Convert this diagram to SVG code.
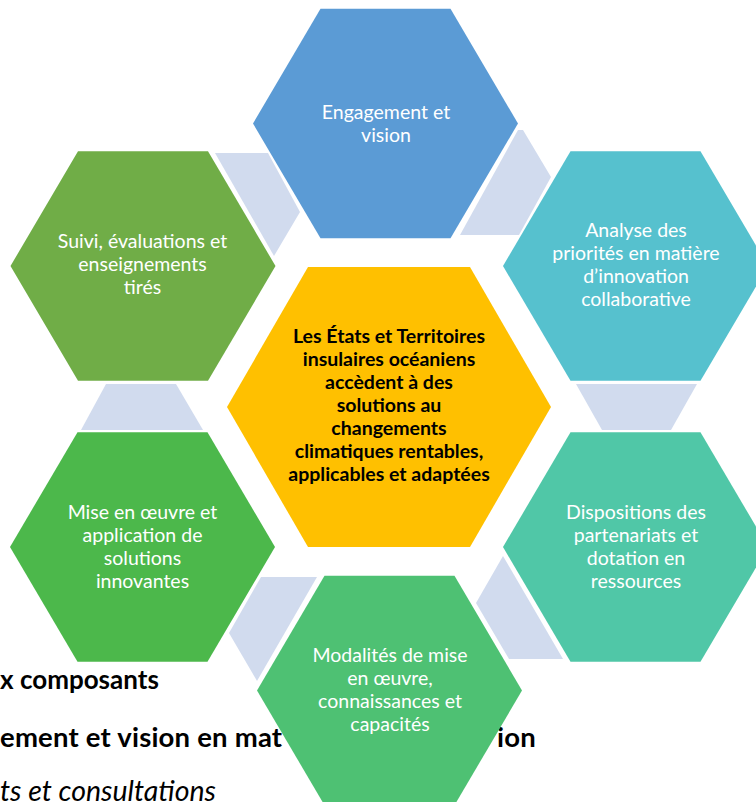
<svg xmlns="http://www.w3.org/2000/svg" width="756" height="802" viewBox="0 0 756 802">
  <style>
    .bg { font-family: Lato, "Liberation Sans", sans-serif; font-weight: bold; font-size: 26px; fill: #000; }
    .bg2 { font-family: Lato, "Liberation Sans", sans-serif; font-weight: bold; font-size: 27.5px; letter-spacing: 0.2px; fill: #000; }
    .bgi { font-family: Lato, "Liberation Sans", sans-serif; font-style: italic; font-size: 28.5px; fill: #000; }
    .conn { fill: #D1DBEE; stroke: none; }
    .lbl { font-family: Lato, "Open Sans", sans-serif; font-size: 19.5px; fill: #FFFFFF; text-anchor: middle; }
    .ctr { font-family: Lato, "Open Sans", sans-serif; font-size: 19.5px; font-weight: bold; fill: #000000; text-anchor: middle; }
  </style>
  <rect width="756" height="802" fill="#FFFFFF"/>

  <!-- document text behind the figure -->
  <g id="background-text">
    <text class="bg" x="0" y="689">x composants</text>
    <text class="bg2" x="0" y="747">ement et vision en mat</text>
    <text class="bg2" x="497" y="747">ion</text>
    <text class="bgi" x="0" y="801">ts et consultations</text>
  </g>

  <g id="connectors">
    <polygon class="conn" points="215,153 268,153 300,212 274,256"/>
    <polygon class="conn" points="518,130 523,130 551,177 519,235 460,235"/>
    <polygon class="conn" points="576,384 697,384 671,430 602,430"/>
    <polygon class="conn" points="503,556 563,659 509,659 476,603"/>
    <polygon class="conn" points="261,577 317,577 257,681 229,633"/>
    <polygon class="conn" points="106,384 176,384 203,430 81,430"/>
  </g>

  <g id="node-engagement">
    <polygon fill="#5B9BD5" points="253,123.5 320.5,8.75 450.5,8.75 518,123.5 450.5,238.25 320.5,238.25"/>
    <text class="lbl" x="386" y="119">Engagement et</text>
    <text class="lbl" x="386" y="142">vision</text>
  </g>

  <g id="node-analyse">
    <polygon fill="#56C1CE" points="503,266 570.5,151.25 700.5,151.25 768,266 700.5,380.75 570.5,380.75"/>
    <text class="lbl" x="636" y="237">Analyse des</text>
    <text class="lbl" x="636" y="260">priorités en matière</text>
    <text class="lbl" x="636" y="283">d’innovation</text>
    <text class="lbl" x="636" y="306">collaborative</text>
  </g>

  <g id="node-dispositions">
    <polygon fill="#50C7A7" points="503,547 570.5,432.25 700.5,432.25 768,547 700.5,661.75 570.5,661.75"/>
    <text class="lbl" x="636" y="519">Dispositions des</text>
    <text class="lbl" x="636" y="542">partenariats et</text>
    <text class="lbl" x="636" y="565">dotation en</text>
    <text class="lbl" x="636" y="588">ressources</text>
  </g>

  <g id="node-modalites">
    <polygon fill="#4EC173" points="257,690.5 324.5,575.75 454.5,575.75 522,690.5 454.5,805.25 324.5,805.25"/>
    <text class="lbl" x="390" y="662">Modalités de mise</text>
    <text class="lbl" x="390" y="685">en œuvre,</text>
    <text class="lbl" x="390" y="708">connaissances et</text>
    <text class="lbl" x="390" y="731">capacités</text>
  </g>

  <g id="node-mise-en-oeuvre">
    <polygon fill="#4CB84B" points="10,547 77.5,432.25 207.5,432.25 275,547 207.5,661.75 77.5,661.75"/>
    <text class="lbl" x="142.5" y="519">Mise en œuvre et</text>
    <text class="lbl" x="142.5" y="542">application de</text>
    <text class="lbl" x="142.5" y="565">solutions</text>
    <text class="lbl" x="142.5" y="588">innovantes</text>
  </g>

  <g id="node-suivi">
    <polygon fill="#70AD47" points="10.5,266 78,151.25 208,151.25 275.5,266 208,380.75 78,380.75"/>
    <text class="lbl" x="142.5" y="248">Suivi, évaluations et</text>
    <text class="lbl" x="142.5" y="271">enseignements</text>
    <text class="lbl" x="142.5" y="294">tirés</text>
  </g>

  <g id="node-centre">
    <polygon fill="#FFC000" points="227,407 308,267 470,267 551,407 470,547 308,547"/>
    <text class="ctr" x="389" y="343">Les États et Territoires</text>
    <text class="ctr" x="389" y="366">insulaires océaniens</text>
    <text class="ctr" x="389" y="389">accèdent à des</text>
    <text class="ctr" x="389" y="412">solutions au</text>
    <text class="ctr" x="389" y="435">changements</text>
    <text class="ctr" x="389" y="458">climatiques rentables,</text>
    <text class="ctr" x="389" y="481">applicables et adaptées</text>
  </g>
</svg>
